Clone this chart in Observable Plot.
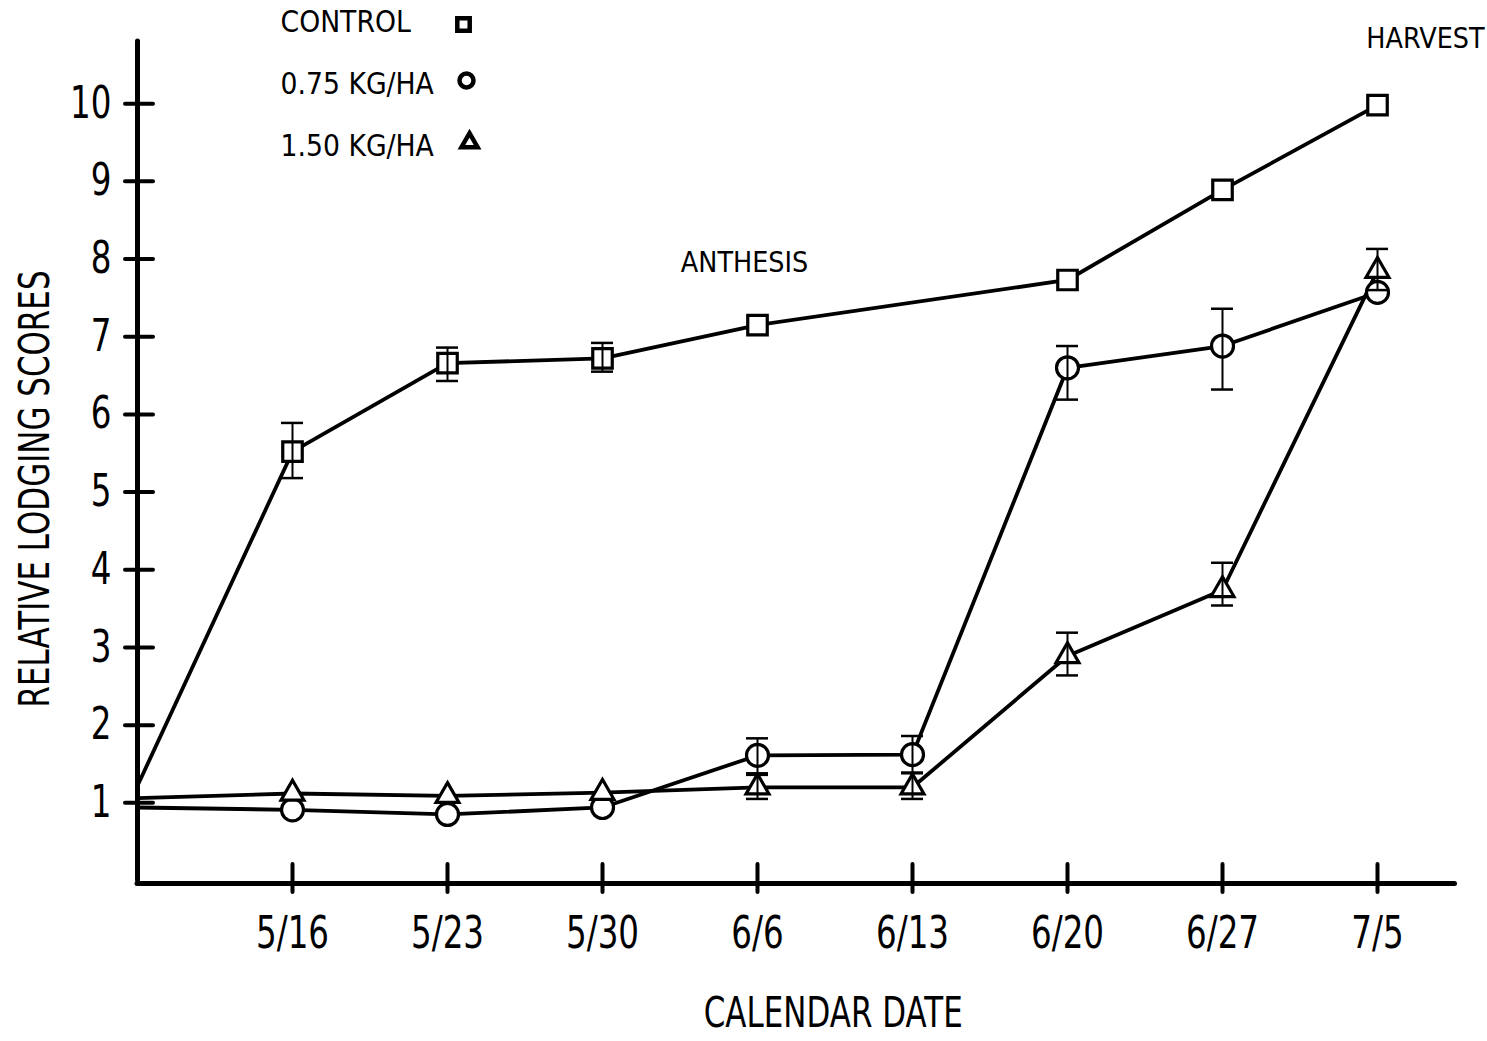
<!DOCTYPE html>
<html><head><meta charset="utf-8">
<script src="https://cdn.jsdelivr.net/npm/d3@7"></script>
<script src="https://cdn.jsdelivr.net/npm/@observablehq/plot@0.6"></script>
<style>
body{margin:0;background:#fff;}
#chart{position:relative;width:1487px;height:1041px;}
#chart svg{display:block;}
</style></head><body><div id="chart"></div>
<script>
// ---- data ----
const dateLabels = ["5/16","5/23","5/30","6/6","6/13","6/20","6/27","7/5"];
const dateIndex  = [1,2,3,4,5,6,7,8];
const yTicks = [1,2,3,4,5,6,7,8,9,10];

const seriesNames = ["CONTROL","0.75 KG/HA","1.50 KG/HA"];
const seriesSymbols = ["square","circle","triangle"];

const controlIdx = [0,1,2,3,4,6,7,8];
const controlVal = [1.22,5.52,6.66,6.72,7.15,7.73,8.89,9.98];
const controlLo  = [null,5.18,6.43,6.55,null,null,null,null];
const controlHi  = [null,5.89,6.86,6.92,null,null,null,null];

const lowIdx = [0,1,2,3,4,5,6,7,8];
const lowVal = [0.94,0.91,0.85,0.94,1.61,1.62,6.60,6.88,7.57];
const lowLo  = [null,null,null,null,1.36,1.39,6.19,6.32,null];
const lowHi  = [null,null,null,null,1.83,1.86,6.88,7.36,null];

const highIdx = [0,1,2,3,4,5,6,7,8];
const highVal = [1.06,1.12,1.09,1.13,1.20,1.20,2.89,3.74,7.85];
const highLo  = [null,null,null,null,1.05,1.05,2.64,3.54,7.60];
const highHi  = [null,null,null,null,1.38,1.38,3.19,4.09,8.13];

const annotationLabels = ["ANTHESIS","HARVEST"];
const annotationIdx = [4, 8];

// ---- build table ----
function build(name, idx, val, lo, hi){
  return idx.map((x,i)=>({series:name, idx:x, val:val[i], lo:lo[i], hi:hi[i]}));
}
const rows = [
  ...build(seriesNames[0], controlIdx, controlVal, controlLo, controlHi),
  ...build(seriesNames[1], lowIdx, lowVal, lowLo, lowHi),
  ...build(seriesNames[2], highIdx, highVal, highLo, highHi)
];
const errRows = rows.filter(d=>d.lo!=null || d.hi!=null).map(d=>({...d, lo: d.lo ?? d.val, hi: d.hi ?? d.val}));
const markerRows = rows.filter(d=>d.idx>0);

const font = "'DejaVu Sans', sans-serif";
const bigFont = {fontFamily: font, fontSize: 44};
const titleFont = {fontFamily: font, fontSize: 43};
const smallFont = {fontFamily: font, fontSize: 29};

const marks = [
  // axes
  Plot.ruleX([0], {y1: ()=>0, y2: ()=>10.8, strokeWidth: 5, strokeLinecap:"round"}),
  Plot.ruleY([0], {x1: ()=>0, x2: ()=>8.5, strokeWidth: 5, strokeLinecap:"round", dy: 3}),
  Plot.ruleY(yTicks, {y: d=>d, x1: ()=>0, x2: ()=>0, insetLeft:-12, insetRight:-16, strokeWidth: 4, strokeLinecap:"round"}),
  Plot.ruleX(dateIndex, {x: d=>d, y1: ()=>0, y2: ()=>0, insetTop:-16, insetBottom:-12, strokeWidth: 4, strokeLinecap:"round"}),
  Plot.text(yTicks, {x: ()=>0, y: d=>d, text: d=>String(d), textAnchor:"end", dx:-26, ...bigFont}),
  Plot.text(dateIndex, {x: d=>d, y: ()=>0, text: (d,i)=>dateLabels[i], dy: 53, ...bigFont}),
  // titles
  Plot.text(["CALENDAR DATE"], {frameAnchor:"bottom", textAnchor:"middle", dx: 37, dy: 146, ...titleFont}),
  Plot.text(["RELATIVE LODGING SCORES"], {frameAnchor:"left", textAnchor:"middle", dx: -102, dy: 28, rotate: -90, ...titleFont}),
  // lines
  Plot.line(rows, {x:"idx", y:"val", z:"series", stroke:"black", strokeWidth: 3.8}),
  // markers
  ...seriesNames.map((s,k)=>Plot.dot(markerRows.filter(d=>d.series===s), {x:"idx", y:"val", symbol: seriesSymbols[k], r: k===2 ? 8.5 : 11, fill:"white", stroke:"black", strokeWidth: 3.2})),
  // error bars
  Plot.ruleX(errRows, {x:"idx", y1:"lo", y2:"hi", strokeWidth: 2}),
  Plot.ruleY(errRows.filter(d=>d.hi>d.val), {y:"hi", x1:"idx", x2:"idx", insetLeft:-11, insetRight:-11, strokeWidth: 2.5}),
  Plot.ruleY(errRows.filter(d=>d.lo<d.val-0.1), {y:"lo", x1:"idx", x2:"idx", insetLeft:-11, insetRight:-11, strokeWidth: 2.5}),
  // annotations
  Plot.text([0], {x: ()=>annotationIdx[0], text: ()=>annotationLabels[0], frameAnchor:"top", dx:-13, dy:210, ...smallFont}),
  Plot.text([0], {x: ()=>annotationIdx[1], text: ()=>annotationLabels[1], frameAnchor:"top", dx:48, dy:-14, ...smallFont}),
  // legend
  ...seriesNames.map((s,k)=>Plot.text([s], {frameAnchor:"top-left", textAnchor:"start", dx: 143, dy: -31 + k*62, fontFamily: font, fontSize: 30})),
  ...seriesSymbols.map((sym,k)=>Plot.dot([0], {frameAnchor:"top-left", symbol: sym, r: sym==="triangle" ? 6 : 7, fill:"white", stroke:"black", strokeWidth: 4.5, dx: 326 + k*3, dy: -17 + k*62 - (k>0?6:0)}))
];

const chart = Plot.plot({
  width: 1487, height: 1041,
  marginLeft: 137, marginRight: 32.5, marginTop: 41, marginBottom: 161,
  x: {domain:[0,8.5], axis:null},
  y: {domain:[0,10.8], axis:null},
  style: {background:"white", color:"black", overflow:"visible"},
  marks
});

// condense the lettering horizontally (the reference uses a narrow face)
const squeeze = {"44": 0.74, "43": 0.72, "29": 0.88, "30": 0.89};
d3.select(chart).selectAll("g").each(function(){
  const k = squeeze[this.getAttribute("font-size")];
  if (!k) return;
  d3.select(this).selectAll("text").each(function(){
    const t = this.getAttribute("transform") || "";
    this.setAttribute("transform", t + ` scale(${k},1)`);
  });
});

document.getElementById("chart").appendChild(chart);
</script></body></html>
